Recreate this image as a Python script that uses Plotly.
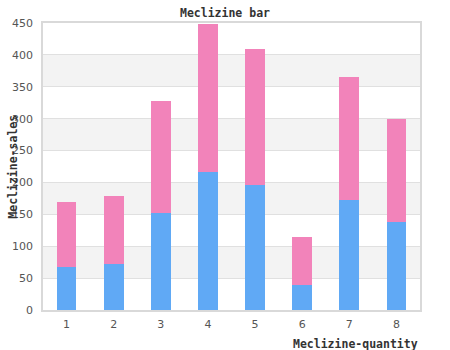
import plotly.graph_objects as go

categories = ["1", "2", "3", "4", "5", "6", "7", "8"]
blue_values = [67, 72, 152, 217, 196, 39, 173, 138]
pink_totals = [169, 179, 328, 448, 409, 114, 365, 300]
pink_values = [t - b for t, b in zip(pink_totals, blue_values)]
y_ticks = [0, 50, 100, 150, 200, 250, 300, 350, 400, 450]

BLUE = "#60A9F5"
PINK = "#F283BA"

fig = go.Figure()
fig.add_trace(go.Bar(x=categories, y=blue_values, marker=dict(color=BLUE, line=dict(width=0)), width=0.42, name="a"))
fig.add_trace(go.Bar(x=categories, y=pink_values, marker=dict(color=PINK, line=dict(width=0)), width=0.42, name="b"))

shapes = []
for i, lo in enumerate(y_ticks[:-1]):
    if i % 2 == 1:
        shapes.append(dict(type="rect", xref="paper", yref="y", x0=0, x1=1, y0=lo, y1=lo + 50,
                           fillcolor="#F3F3F3", line=dict(width=0), layer="below"))

mono = "DejaVu Sans Mono"
fig.update_layout(
    barmode="stack",
    width=450, height=350,
    margin=dict(l=40.5, r=30, t=23, b=40),
    paper_bgcolor="white", plot_bgcolor="white",
    showlegend=False,
    shapes=shapes,
    title=dict(text="<b>Meclizine bar</b>", x=0.5, xanchor="center", y=1 - 13 / 350, yanchor="middle",
               font=dict(family=mono, size=11.5, color="#333333")),
    xaxis=dict(type="category", range=[-0.5, 7.5], showgrid=False, showline=True, linecolor="#D9D9D9",
               linewidth=1.5, mirror=True, ticks="", ticklabelstandoff=3,
               tickfont=dict(family="DejaVu Sans", size=11, color="#555555"), zeroline=False),
    yaxis=dict(range=[0, 450], tickvals=y_ticks, showgrid=True, gridcolor="#E0E0E0", gridwidth=1,
               showline=True, linecolor="#D9D9D9", linewidth=1.5, mirror=True, ticks="", ticklabelstandoff=6,
               tickfont=dict(family="DejaVu Sans", size=11, color="#555555"), zeroline=False),
    annotations=[
        dict(text="<b>Meclizine-sales</b>", xref="paper", yref="paper", x=-30.5 / 379.5,
             y=(310 - 167) / 287, textangle=-90, showarrow=False, xanchor="center", yanchor="middle",
             font=dict(family=mono, size=11.5, color="#333333")),
        dict(text="<b>Meclizine-quantity</b>", xref="paper", yref="paper", x=1, y=-34 / 287,
             showarrow=False, xanchor="right", yanchor="middle",
             font=dict(family=mono, size=11.5, color="#333333")),
    ],
)

fig.write_html("out.html")
